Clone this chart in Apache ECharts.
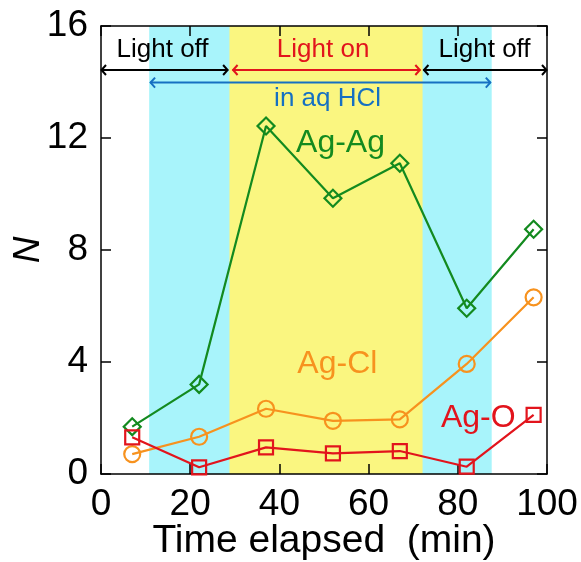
<!DOCTYPE html>
<html><head><meta charset="utf-8">
<script src="https://cdn.jsdelivr.net/npm/echarts@6/dist/echarts.min.js"></script>
<style>html,body{margin:0;padding:0;background:#fff}#c{width:581px;height:562px}</style>
</head><body><div id="c"></div>
<script>
// ---- data ----
const time = [7, 22, 37, 52, 67, 82, 97];
const agAg = [1.69, 3.2, 12.43, 9.85, 11.1, 5.92, 8.74];
const agCl = [0.71, 1.33, 2.33, 1.9, 1.95, 3.93, 6.31];
const agO  = [1.31, 0.24, 0.95, 0.74, 0.82, 0.26, 2.11];
const xTicks = [0, 20, 40, 60, 80, 100];
const yTicks = [0, 4, 8, 12, 16];
const hclPeriod = [10.8, 87.6];
const lightOnPeriod = [28.8, 72.1];
const arrowStart = [0, 29.5, 72.3, 11];
const arrowEnd   = [28.5, 71.6, 100, 87.4];
const arrowLevel = [14.43, 14.43, 14.43, 13.98];
const noteText = ['Light off', 'Light on', 'Light off', 'in aq HCl', 'Ag-Ag', 'Ag-Cl', 'Ag-O'];
const noteX = [13.8, 49.8, 86.0, 50.8, 53.7, 53.0, 84.6];
const noteY = [15.14, 15.14, 15.14, 13.40, 11.8, 3.94, 1.99];

// ---- styles ----
const FONT = '"Liberation Sans", Arial, Helvetica, sans-serif';
const GREEN = '#138a1f', ORANGE = '#f7921e', RED = '#e2141c', BLUE = '#1670c2';
const bandColors = ['#a8f4fb', '#faf680'];
const arrowColors = ['#000', RED, '#000', BLUE];
const noteColors = ['#000', RED, '#000', BLUE, GREEN, ORANGE, RED];
const noteSizes = [26, 26, 26, 26, 32, 32, 32];

const xMin = xTicks[0], xMax = xTicks[xTicks.length - 1];
const yMin = yTicks[0], yMax = yTicks[yTicks.length - 1];

const chart = echarts.init(document.getElementById('c'), null, {renderer: 'canvas'});

const axisLine = {show: true, onZero: false, lineStyle: {color: '#000', width: 1.5}};
const axisTick = {show: true, inside: true, length: 10, lineStyle: {color: '#000', width: 1.5}};

function lineSeries(name, vals, color, symbol, size, rotate) {
  return {
    name, type: 'line', z: 4,
    data: time.map((t, i) => [t, vals[i]]),
    symbol, symbolSize: size, symbolRotate: rotate || 0,
    showAllSymbol: true,
    lineStyle: {color, width: 2.2},
    itemStyle: {color: 'rgba(0,0,0,0)', borderColor: color, borderWidth: 2.2},
    emphasis: {disabled: true},
    animation: false
  };
}

chart.setOption({
  animation: false,
  grid: {left: 101, right: 34, top: 26, bottom: 88, containLabel: false, outerBoundsMode: 'none'},
  xAxis: [
    {type: 'value', position: 'bottom', min: xMin, max: xMax, interval: 20, z: 3,
     axisLine, axisTick, splitLine: {show: false},
     axisLabel: {fontSize: 37, color: '#000', margin: 12, fontFamily: FONT},
     name: 'Time elapsed  (min)', nameLocation: 'middle', nameGap: 48, nameMoveOverlap: false,
     nameTextStyle: {fontSize: 39, color: '#000', fontFamily: FONT}},
    {type: 'value', position: 'top', min: xMin, max: xMax, interval: 20, z: 3,
     axisLine, axisTick, splitLine: {show: false}, axisLabel: {show: false}}
  ],
  yAxis: [
    {type: 'value', position: 'left', min: yMin, max: yMax, interval: 4, z: 3,
     axisLine, axisTick, splitLine: {show: false},
     axisLabel: {fontSize: 37, color: '#000', margin: 13, fontFamily: FONT},
     name: 'N', nameLocation: 'middle', nameGap: 54, nameRotate: 90, nameMoveOverlap: false,
     nameTextStyle: {fontSize: 37, color: '#000', fontStyle: 'italic', fontFamily: FONT}},
    {type: 'value', position: 'right', min: yMin, max: yMax, interval: 4, z: 3,
     axisLine, axisTick, splitLine: {show: false}, axisLabel: {show: false}}
  ],
  series: [
    {
      type: 'custom', z: 1, silent: true,
      data: [[hclPeriod[0], hclPeriod[1]], [lightOnPeriod[0], lightOnPeriod[1]]],
      encode: {x: [0, 1]},
      clip: false,
      renderItem: function (params, api) {
        const p1 = api.coord([api.value(0), yMax]);
        const p2 = api.coord([api.value(1), yMin]);
        return {type: 'rect',
          shape: {x: p1[0], y: p1[1], width: p2[0] - p1[0], height: p2[1] - p1[1]},
          style: {fill: bandColors[params.dataIndex]}};
      }
    },
    {
      type: 'custom', z: 3, silent: true,
      data: arrowStart.map((s, i) => [s, arrowEnd[i], arrowLevel[i]]),
      encode: {x: [0, 1], y: 2},
      clip: false,
      renderItem: function (params, api) {
        const a = api.coord([api.value(0), api.value(2)]);
        const b = api.coord([api.value(1), api.value(2)]);
        const c = arrowColors[params.dataIndex];
        const h = 5, w = 5;
        const st = {stroke: c, lineWidth: 2, fill: null};
        return {type: 'group', children: [
          {type: 'line', shape: {x1: a[0], y1: a[1], x2: b[0], y2: b[1]}, style: st},
          {type: 'polyline', shape: {points: [[a[0] + h, a[1] - w], [a[0] + 0.5, a[1]], [a[0] + h, a[1] + w]]}, style: st},
          {type: 'polyline', shape: {points: [[b[0] - h, b[1] - w], [b[0] - 0.5, b[1]], [b[0] - h, b[1] + w]]}, style: st}
        ]};
      }
    },
    lineSeries('Ag-Ag', agAg, GREEN, 'rect', 12, 45),
    lineSeries('Ag-Cl', agCl, ORANGE, 'circle', 16),
    lineSeries('Ag-O', agO, RED, 'rect', 14),
    {
      type: 'custom', z: 5, silent: true,
      data: noteX.map((x, i) => [x, noteY[i]]),
      clip: false,
      renderItem: function (params, api) {
        const p = api.coord([api.value(0), api.value(1)]);
        const i = params.dataIndex;
        return {type: 'text', x: p[0], y: p[1],
          style: {text: noteText[i], fill: noteColors[i], fontSize: noteSizes[i],
                  fontFamily: FONT, align: 'center', verticalAlign: 'middle'}};
      }
    }
  ]
});
</script></body></html>
